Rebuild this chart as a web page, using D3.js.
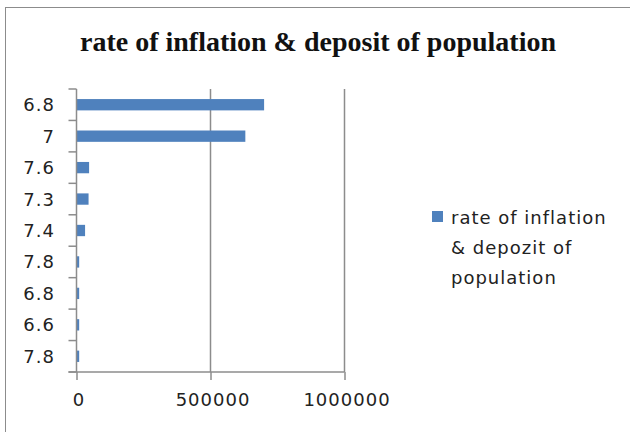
<!DOCTYPE html>
<html>
<head>
<meta charset="utf-8">
<script src="https://cdn.jsdelivr.net/npm/d3@7"></script>
<style>
  html, body { margin: 0; padding: 0; background: #fff; }
  svg { display: block; }
</style>
</head>
<body>
<svg id="chart" width="630" height="432"></svg>
<script>
// Category labels (top to bottom) and deposit values
const categories = ["6.8", "7", "7.6", "7.3", "7.4", "7.8", "6.8", "6.6", "7.8"];
const deposits = [700000, 630000, 47000, 45000, 32000, 10000, 10000, 10000, 10000];
const xTicks = [0, 500000, 1000000];
const title = "rate of inflation & deposit of population";
const legendLines = ["rate of inflation", "& depozit of", "population"];

const svg = d3.select("#chart");
const barColor = "#4f81bd";
const axisColor = "#8c8c8c";
const labelFont = "'DejaVu Sans', Verdana, sans-serif";

// Chart frame
svg.append("rect")
  .attr("x", 5.5).attr("y", 7.5)
  .attr("width", 640).attr("height", 440)
  .attr("fill", "none").attr("stroke", axisColor).attr("stroke-width", 1);

// Title
svg.append("text")
  .attr("x", 318).attr("y", 51)
  .attr("text-anchor", "middle")
  .attr("font-family", "'Liberation Serif', 'Times New Roman', serif")
  .attr("font-weight", "bold")
  .attr("font-size", 28)
  .attr("fill", "#111")
  .text(title);

const plot = { left: 76.5, right: 344.5, top: 89, bottom: 372 };

const x = d3.scaleLinear().domain([0, 1000000]).range([plot.left, plot.right]);
const y = d3.scaleBand()
  .domain(d3.range(categories.length))
  .range([plot.top, plot.bottom])
  .paddingInner(0.64)
  .paddingOuter(0.32);

// Vertical gridlines
svg.append("g").selectAll("line")
  .data(xTicks.slice(1))
  .join("line")
  .attr("x1", d => x(d)).attr("x2", d => x(d))
  .attr("y1", plot.top).attr("y2", plot.bottom)
  .attr("stroke", axisColor).attr("stroke-width", 1.5);

// Bars
svg.append("g").selectAll("rect")
  .data(deposits)
  .join("rect")
  .attr("x", x(0))
  .attr("y", (d, i) => y(i))
  .attr("width", d => x(d) - x(0))
  .attr("height", y.bandwidth())
  .attr("fill", barColor);

// Y axis (category) with tick marks on the band boundaries
const boundaries = d3.range(categories.length + 1).map(i => plot.top + i * (plot.bottom - plot.top) / categories.length);
const yAxisG = svg.append("g");
yAxisG.append("line")
  .attr("x1", plot.left).attr("x2", plot.left)
  .attr("y1", plot.top).attr("y2", plot.bottom)
  .attr("stroke", axisColor).attr("stroke-width", 1.5);
yAxisG.selectAll("line.tick")
  .data(boundaries)
  .join("line")
  .attr("class", "tick")
  .attr("x1", plot.left - 8).attr("x2", plot.left)
  .attr("y1", d => d).attr("y2", d => d)
  .attr("stroke", axisColor).attr("stroke-width", 1.5);
yAxisG.selectAll("text")
  .data(categories)
  .join("text")
  .attr("x", 55)
  .attr("y", (d, i) => y(i) + y.bandwidth() / 2)
  .attr("dy", "0.36em")
  .attr("text-anchor", "end")
  .attr("font-family", labelFont)
  .attr("font-size", 18)
  .attr("letter-spacing", 1)
  .attr("fill", "#222")
  .text(d => d);

// X axis
const xAxisG = svg.append("g")
  .attr("transform", `translate(0,${plot.bottom})`)
  .call(d3.axisBottom(x).tickValues(xTicks).tickSize(8).tickSizeOuter(0).tickPadding(13).tickFormat(d3.format("d")));
xAxisG.select(".domain").attr("stroke", axisColor).attr("stroke-width", 1.5)
  .attr("d", `M${plot.left - 8},0H${plot.right}`);
xAxisG.selectAll(".tick line").attr("stroke", axisColor).attr("stroke-width", 1.5);
xAxisG.selectAll(".tick text")
  .attr("dx", 2)
  .attr("font-family", labelFont)
  .attr("font-size", 18)
  .attr("letter-spacing", 1)
  .attr("fill", "#222");

// Legend
const legend = svg.append("g");
legend.append("rect")
  .attr("x", 432).attr("y", 211)
  .attr("width", 11).attr("height", 11)
  .attr("fill", barColor);
legend.selectAll("text")
  .data(legendLines)
  .join("text")
  .attr("x", 451)
  .attr("y", (d, i) => 218 + i * 30)
  .attr("dy", "0.36em")
  .attr("font-family", labelFont)
  .attr("font-size", 18)
  .attr("letter-spacing", 1)
  .attr("fill", "#222")
  .text(d => d);
</script>
</body>
</html>
